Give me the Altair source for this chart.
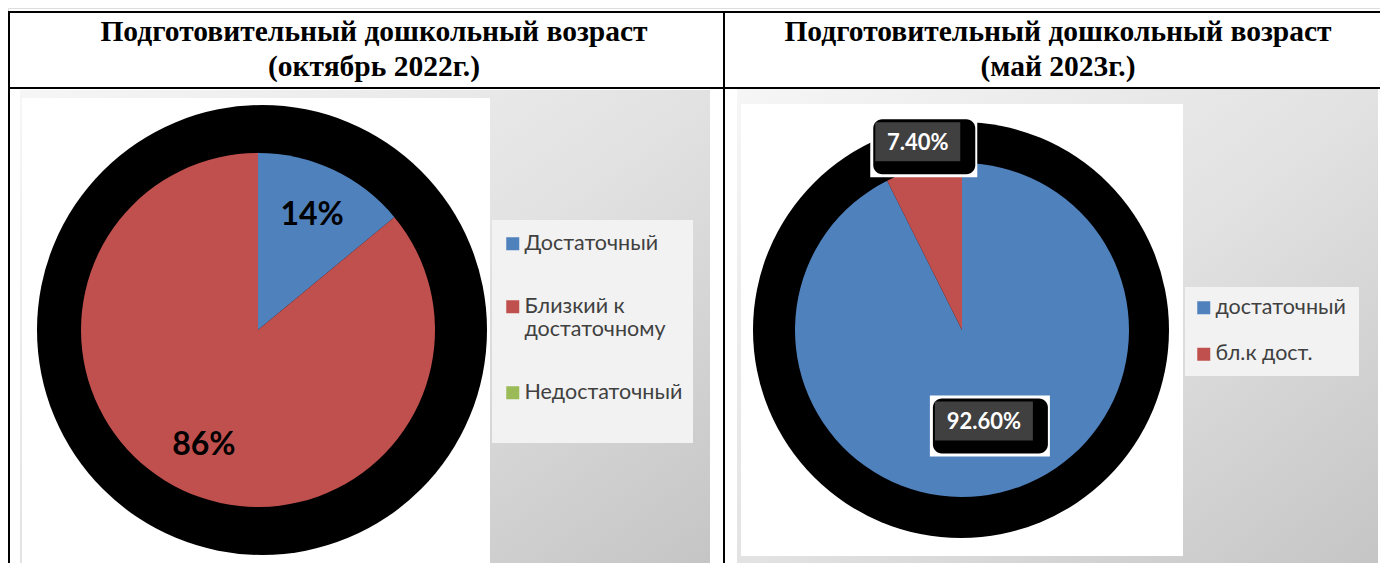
import math
import altair as alt
import pandas as pd

# ---------------- data ----------------
LEFT_TITLE = ["Подготовительный дошкольный возраст", "(октябрь 2022г.)"]
RIGHT_TITLE = ["Подготовительный дошкольный возраст", "(май 2023г.)"]

LEFT_CATS = ["Достаточный", "Близкий к\nдостаточному", "Недостаточный"]
LEFT_VALUES = [14, 86, 0]
LEFT_COLORS = ["#4f81bd", "#c0504d", "#9bbb59"]

RIGHT_CATS = ["достаточный", "бл.к дост."]
RIGHT_VALUES = [92.6, 7.4]
RIGHT_COLORS = ["#4f81bd", "#c0504d"]

# ---------------- layout helpers ----------------
OX = OY = 8
W, H = 1372, 555


def px(v):
    return v - OX


def py(v):
    return v - OY


one = pd.DataFrame({"k": [0]})
left_df = pd.DataFrame({"cat": LEFT_CATS, "value": LEFT_VALUES})
right_df = pd.DataFrame({"cat": RIGHT_CATS, "value": RIGHT_VALUES})

GRAD = {
    "gradient": "linear",
    "x1": 0, "y1": 0, "x2": 1, "y2": 1,
    "stops": [
        {"offset": 0, "color": "#f6f6f6"},
        {"offset": 0.5, "color": "#e2e2e2"},
        {"offset": 1, "color": "#c4c4c4"},
    ],
}


def rect(x1, y1, x2, y2, **kw):
    return alt.Chart(one).mark_rect(**kw).encode(
        x=alt.value(px(x1)), x2=alt.value(px(x2)),
        y=alt.value(py(y1)), y2=alt.value(py(y2)),
    )


def rule(x1, y1, x2, y2):
    return alt.Chart(one).mark_rule(color="black", strokeWidth=2).encode(
        x=alt.value(px(x1)), x2=alt.value(px(x2)),
        y=alt.value(py(y1)), y2=alt.value(py(y2)),
    )


def title(lines, cx):
    return alt.Chart(one).mark_text(
        text=lines, font="Liberation Serif", fontWeight="bold", fontSize=29.5,
        lineHeight=35, baseline="top", align="center", color="black",
    ).encode(x=alt.value(px(cx)), y=alt.value(py(18)))


def shadow(cx, cy, r):
    return alt.Chart(one).mark_arc(
        outerRadius=r, theta=0, theta2=2 * math.pi, color="black"
    ).encode(x=alt.value(px(cx)), y=alt.value(py(cy)))


def pie(df, cats, colors, cx, cy, r, legend):
    return alt.Chart(df).transform_window(o="row_number()").mark_arc(
        outerRadius=r
    ).encode(
        theta=alt.Theta("value:Q", stack=True),
        color=alt.Color("cat:N", scale=alt.Scale(domain=cats, range=colors), legend=legend),
        order=alt.Order("o:Q"),
        x=alt.value(px(cx)), y=alt.value(py(cy)),
    )


def label_base(df, cx, cy, r_in, r_out, fmt):
    return alt.Chart(df).transform_joinaggregate(
        total="sum(value)"
    ).transform_window(
        cum="sum(value)", frame=[None, 0]
    ).transform_calculate(
        mid="(datum.cum - datum.value / 2) / datum.total * 2 * PI",
        rr=f"datum.value / datum.total < 0.1 ? {r_out} : {r_in}",
        tx=f"{px(cx)} + datum.rr * sin(datum.mid)",
        ty=f"{py(cy)} - datum.rr * cos(datum.mid)",
        label=f"format(datum.value, '{fmt}') + '%'",
        half="6.5 * length(datum.label) + 10",
    ).transform_filter("datum.value > 0")


def box(base, dx1, dy1, dx2, dy2, **kw):
    return base.transform_calculate(
        bx1=f"datum.tx - datum.half + ({dx1})",
        bx2=f"datum.tx + datum.half + ({dx2})",
        by1=f"datum.ty + ({dy1})",
        by2=f"datum.ty + ({dy2})",
    ).mark_rect(**kw).encode(
        x=alt.X("bx1:Q", scale=None, axis=None),
        x2="bx2:Q",
        y=alt.Y("by1:Q", scale=None, axis=None),
        y2="by2:Q",
    )


def text(base, **kw):
    return base.mark_text(**kw).encode(
        x=alt.X("tx:Q", scale=None, axis=None),
        y=alt.Y("ty:Q", scale=None, axis=None),
        text="label:N",
    )


LEG = dict(
    title=None, orient="none", symbolType="square", symbolSize=169,
    symbolStrokeWidth=0, labelFont="Lato", labelFontSize=21.5,
    labelColor="#404040", labelLimit=400, labelOffset=1, padding=0,
)

left_legend = alt.Legend(
    legendX=px(502), legendY=py(233), rowPadding=40,
    labelExpr="split(datum.label, '\\n')",
    **LEG,
)
right_legend = alt.Legend(legendX=px(1193), legendY=py(297), rowPadding=23.5, **LEG)

# ---------------- left panel ----------------
L_CX, L_CY, L_R = 258, 330, 177
left_lab = label_base(left_df, L_CX, L_CY, 127, 127, ".0f")

# ---------------- right panel ----------------
R_CX, R_CY, R_R = 962, 330, 167
right_lab = label_base(right_df, R_CX, R_CY, 95, 192, ".2f")

layers = [
    # chart pictures
    rect(20, 90, 710, 580, color=GRAD),
    rect(22, 98, 490, 566, color="white"),
    rect(492, 220, 693, 443, color="#f2f2f2"),
    rect(737, 88, 1378, 580, color=GRAD),
    rect(741, 104, 1183, 556, color="white"),
    rect(1185, 287, 1359, 376, color="#f2f2f2"),
    # shadows
    shadow(262, 330, 225),
    shadow(961, 330, 208),
    # pies
    pie(left_df, LEFT_CATS, LEFT_COLORS, L_CX, L_CY, L_R, left_legend),
    pie(right_df, RIGHT_CATS, RIGHT_COLORS, R_CX, R_CY, R_R, right_legend),
    # left labels
    text(left_lab, font="Lato", fontWeight="bold", fontSize=32, color="black",
         align="center", baseline="middle"),
    # right label boxes
    box(right_lab, -5, -27, 17, 34, color="white"),
    box(right_lab, -2, -24, 15, 31, color="black", cornerRadius=9),
    box(right_lab, 0, -21, 0, 18, color="#404040"),
    text(right_lab, font="Lato", fontWeight="bold", fontSize=22, color="white",
         align="center", baseline="middle"),
    # table
    rule(7, 12, 1390, 12),
    rule(7, 88, 1390, 88),
    rule(9, 12, 9, 580),
    rule(724, 12, 724, 580),
    title(LEFT_TITLE, 374),
    title(RIGHT_TITLE, 1058),
]

chart = alt.layer(*layers).resolve_scale(
    color="independent", theta="independent"
).properties(
    width=W, height=H, padding=0, autosize="none"
).configure_view(stroke=None).configure(background="white")

chart.save("out.html", embed_options={"renderer": "svg", "actions": False})
